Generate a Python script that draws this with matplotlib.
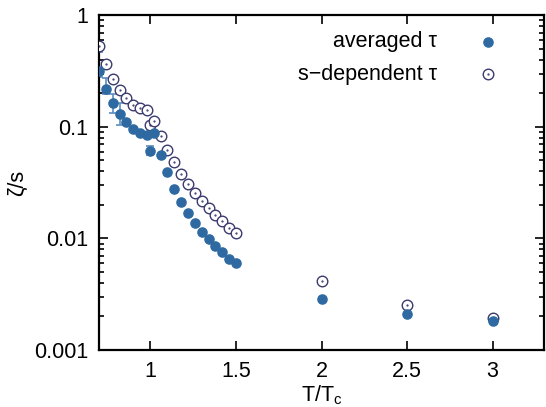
import matplotlib
matplotlib.use("Agg")
import matplotlib.pyplot as plt
from matplotlib.ticker import FixedLocator, FixedFormatter, LogLocator, NullFormatter, NullLocator

plt.rcParams['font.family'] = ['Liberation Sans', 'DejaVu Sans']

# averaged tau (filled)
t_avg = [0.70, 0.74, 0.78, 0.82, 0.86, 0.90, 0.94, 0.98, 1.00, 1.02, 1.06, 1.10,
         1.14, 1.18, 1.22, 1.26, 1.30, 1.34, 1.38, 1.42, 1.46, 1.50, 2.0, 2.5, 3.0]
z_avg = [0.32, 0.22, 0.163, 0.13, 0.111, 0.096, 0.089, 0.085, 0.061, 0.089, 0.056, 0.039,
         0.028, 0.0214, 0.0168, 0.0137, 0.0114, 0.0098, 0.0085, 0.0075, 0.0066, 0.0060,
         0.00285, 0.00212, 0.00183]

# error bars on a few averaged points
t_err = [0.70, 0.74, 0.78, 0.82, 1.00]
z_err = [0.32, 0.22, 0.163, 0.13, 0.061]
z_lo = [0.28, 0.196, 0.132, 0.104, 0.056]
z_hi = [0.47, 0.276, 0.196, 0.163, 0.067]

# s-dependent tau (open)
t_s = [0.70, 0.74, 0.78, 0.82, 0.86, 0.90, 0.94, 0.98, 1.00, 1.02, 1.06, 1.10,
       1.14, 1.18, 1.22, 1.26, 1.30, 1.34, 1.38, 1.42, 1.46, 1.50, 2.0, 2.5, 3.0]
z_s = [0.534, 0.364, 0.267, 0.214, 0.183, 0.157, 0.147, 0.142, 0.104, 0.113, 0.082, 0.062,
       0.048, 0.038, 0.0306, 0.0257, 0.0218, 0.0186, 0.0162, 0.0142, 0.0125, 0.0111,
       0.00416, 0.00252, 0.00195]

x_ticks = [1, 1.5, 2, 2.5, 3]
x_ticklabels = ['1', '1.5', '2', '2.5', '3']
y_ticks = [0.001, 0.01, 0.1, 1]
y_ticklabels = ['0.001', '0.01', '0.1', '1']

fill_c = '#2e6aa1'
err_c = '#5b8ec0'
open_c = '#3a3a6e'
FS = 15.5

fig = plt.figure(figsize=(5.46, 4.07), dpi=100)
ax = fig.add_axes([99/546, 1-350/407, (544-99)/546, (350-15.3)/407])

yerr = [[c - l for c, l in zip(z_err, z_lo)], [h - c for c, h in zip(z_err, z_hi)]]
ax.errorbar(t_err, z_err, yerr=yerr, fmt='none', ecolor=err_c, elinewidth=1.2,
            capsize=3.0, capthick=1.2, zorder=2)
ax.plot(t_s, z_s, ls='none', marker='o', ms=7.6, mfc='white', mec=open_c, mew=1.0, zorder=3)
ax.plot(t_s, z_s, ls='none', marker='.', ms=1.2, color=open_c, zorder=3)
ax.plot(t_avg, z_avg, ls='none', marker='o', ms=6.6, color=fill_c, mec=fill_c, zorder=4)

ax.set_yscale('log')
ax.set_xlim(0.7, 3.3)
ax.set_ylim(0.001, 1)
ax.xaxis.set_major_locator(FixedLocator(x_ticks))
ax.xaxis.set_major_formatter(FixedFormatter(x_ticklabels))
ax.xaxis.set_minor_locator(NullLocator())
ax.yaxis.set_major_locator(FixedLocator(y_ticks))
ax.yaxis.set_major_formatter(FixedFormatter(y_ticklabels))
ax.yaxis.set_minor_locator(LogLocator(base=10, subs=range(2, 10)))
ax.yaxis.set_minor_formatter(NullFormatter())
ax.tick_params(which='both', direction='in', top=True, right=True, labelsize=FS, width=1.2)
ax.tick_params(which='major', length=6.5, pad=8)
ax.tick_params(which='minor', length=3.5)
for s in ax.spines.values():
    s.set_linewidth(1.6)

ax.set_xlabel('T/T$_\\mathregular{c}$', fontsize=FS, labelpad=1)
ax.set_ylabel('ζ/s', fontsize=FS, labelpad=4)

# legend
ax.text(0.760, 0.921, 'averaged τ', transform=ax.transAxes, ha='right', va='center', fontsize=FS)
ax.text(0.760, 0.824, 's−dependent τ', transform=ax.transAxes, ha='right', va='center', fontsize=FS)
ax.plot([0.874], [0.921], transform=ax.transAxes, marker='o', ms=6.6, color=fill_c, ls='none')
ax.plot([0.874], [0.824], transform=ax.transAxes, marker='o', ms=7.6, mfc='white', mec=open_c, mew=1.0, ls='none')
ax.plot([0.874], [0.824], transform=ax.transAxes, marker='.', ms=1.2, color=open_c, ls='none')

fig.savefig('out.png', dpi=100)
